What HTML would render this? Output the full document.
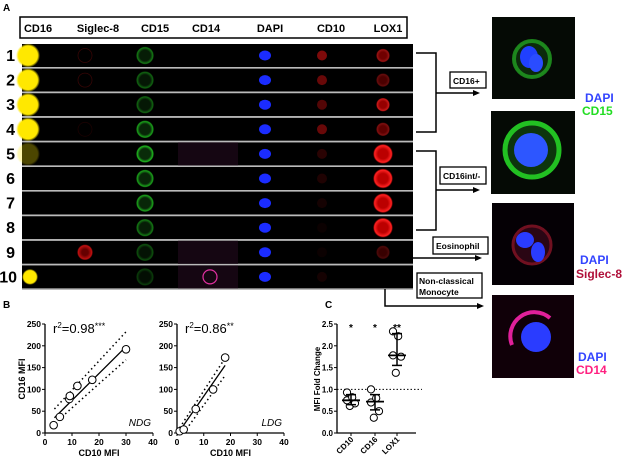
<!DOCTYPE html>
<html><head><meta charset="utf-8"><style>
html,body{margin:0;padding:0;background:#fff}
svg{display:block;font-family:"Liberation Sans",Arial,sans-serif}
</style></head><body>
<svg id="fig" width="623" height="458" viewBox="0 0 623 458" xmlns="http://www.w3.org/2000/svg">
<defs>
<radialGradient id="gY"><stop offset="0.8" stop-color="#ffe800"/><stop offset="1" stop-color="#ffe800" stop-opacity="0"/></radialGradient>
<radialGradient id="gG"><stop offset="0.6" stop-color="#0a300a"/><stop offset="0.88" stop-color="#22cc22"/><stop offset="1" stop-color="#22cc22" stop-opacity="0"/></radialGradient>
<radialGradient id="gR"><stop offset="0.5" stop-color="#b00"/><stop offset="0.85" stop-color="#ff2222"/><stop offset="1" stop-color="#f00" stop-opacity="0"/></radialGradient>
<radialGradient id="gS"><stop offset="0.4" stop-color="#600"/><stop offset="0.85" stop-color="#c01010"/><stop offset="1" stop-color="#c01010" stop-opacity="0"/></radialGradient>
<radialGradient id="gM"><stop offset="0.7" stop-color="#000" stop-opacity="0"/><stop offset="0.85" stop-color="#e0209a"/><stop offset="1" stop-color="#e0209a" stop-opacity="0"/></radialGradient>
</defs>
<text x="3" y="11" font-size="10" font-weight="bold">A</text>
<rect x="20" y="17" width="387" height="21" fill="#fff" stroke="#000" stroke-width="1.5"/>
<g id="hdr" font-size="11" font-weight="bold" text-anchor="middle">
<text x="38" y="32">CD16</text><text x="98" y="32">Siglec-8</text><text x="155" y="32">CD15</text><text x="206" y="32">CD14</text><text x="270" y="32">DAPI</text><text x="331" y="32">CD10</text><text x="388" y="32">LOX1</text>
</g>
<g id="rows"></g>
<g id="flow" stroke="#000" stroke-width="1.5" fill="none">
<path d="M416 53H436V132H416M436 93H476"/>
<path d="M416 151H436V230H416M436 190H476"/>
<path d="M413 258H478"/>
<path d="M385 289V306H480"/>
</g>
<g fill="#000">
<path d="M480 93l-7-3v6z"/><path d="M480 190l-7-3v6z"/><path d="M482 258l-7-3v6z"/><path d="M484 306l-7-3v6z"/>
</g>
<g font-size="8.5" font-weight="bold">
<rect x="450" y="72" width="36" height="16" fill="#fff" stroke="#000" stroke-width="1.3"/><text x="453" y="84">CD16+</text>
<rect x="440" y="167" width="46" height="17" fill="#fff" stroke="#000" stroke-width="1.3"/><text x="443" y="179">CD16int/-</text>
<rect x="433" y="237" width="55" height="17" fill="#fff" stroke="#000" stroke-width="1.3"/><text x="436" y="249">Eosinophil</text>
<rect x="417" y="273" width="65" height="25" fill="#fff" stroke="#000" stroke-width="1.3"/><text x="419" y="284">Non-classical</text><text x="419" y="295">Monocyte</text>
</g>
<g>
<rect x="492" y="17" width="83" height="82" fill="#050a05"/><circle cx="532" cy="59" r="19" fill="#0c2a0c"/><circle cx="532" cy="59" r="18" fill="none" stroke="#22a022" stroke-width="4" opacity="0.8"/><ellipse cx="529" cy="57" rx="9" ry="11" fill="#2040ff"/><ellipse cx="536" cy="63" rx="7" ry="9" fill="#2a4cff"/>
</g>
<g>
<rect x="491" y="111" width="84" height="83" fill="#050a05"/><circle cx="532" cy="150" r="28" fill="#0d350d"/><circle cx="532" cy="150" r="27" fill="none" stroke="#22c022" stroke-width="5"/><circle cx="531" cy="150" r="17" fill="#2d56ff"/>
</g>
<g>
<rect x="492" y="203" width="82" height="82" fill="#050005"/><circle cx="532" cy="245" r="19" fill="#2a0614"/><circle cx="532" cy="245" r="19" fill="none" stroke="#701020" stroke-width="3"/><ellipse cx="525" cy="240" rx="9" ry="8" fill="#2a3cff"/><ellipse cx="538" cy="252" rx="7" ry="10" fill="#2a3cff"/>
</g>
<g>
<rect x="492" y="295" width="82" height="83" fill="#100008"/><path d="M512 345A24 24 0 0 1 550 318" fill="none" stroke="#e0209a" stroke-width="4"/><circle cx="536" cy="337" r="15" fill="#2a3cff"/>
</g>
<g font-size="12" font-weight="bold">
<text x="585" y="102" fill="#3344ff">DAPI</text><text x="582" y="115" fill="#22dd22">CD15</text>
<text x="580" y="264" fill="#3344ff">DAPI</text><text x="576" y="278" fill="#b0103a">Siglec-8</text>
<text x="578" y="361" fill="#3344ff">DAPI</text><text x="576" y="374" fill="#ff2080">CD14</text>
</g>
<text x="3" y="308" font-size="10" font-weight="bold">B</text>
<text x="325" y="308" font-size="10" font-weight="bold">C</text>
<g id="charts"></g>
</svg>
<script>
const NS="http://www.w3.org/2000/svg";
function mk(p,t,a){const e=document.createElementNS(NS,t);for(const k in a)e.setAttribute(k,a[k]);p.appendChild(e);return e;}
const rowLabels=["1","2","3","4","5","6","7","8","9","10"];
const colX=[30,85,145,205,265,322,383];
const rowsG=document.getElementById('rows');
const rowIntensity=[
[1,.3,.6,0,1,.6,.6],[1,.3,.5,0,1,.5,.4],[1,0,.5,0,1,.4,.8],[1,.15,.8,0,1,.5,.5],
[.3,0,.9,.15,1,.2,1],[0,0,.8,0,1,.15,1],[0,0,.8,0,1,.1,1],[0,0,.6,0,1,.05,1],
[0,.8,.4,.1,1,.05,.3],[1,0,.3,.8,1,.1,0]];
rowLabels.forEach((lab,i)=>{
 const y=44+i*24.6;
 const g=mk(rowsG,'g',{});
 
 
 mk(g,'rect',{x:22,y:y,width:391,height:23,fill:'#000'});
 mk(g,'line',{x1:22,x2:413,y1:y+23.8,y2:y+23.8,stroke:'#bbb','stroke-width':1.5});
 const t=mk(g,'text',{x:i==9?17:15,y:y+17,'font-size':16,'font-weight':'bold','text-anchor':'end'});t.textContent=lab;
 const cy=y+11.5,v=rowIntensity[i];
 if(v[0]>0)mk(g,'circle',{cx:colX[0]+(i==9?0:-2),cy:cy,r:i==9?8:12,fill:'url(#gY)',opacity:v[0]});
 if(v[1]>0){if(i==8)mk(g,'circle',{cx:colX[1],cy:cy,r:8,fill:'url(#gS)'});else mk(g,'circle',{cx:colX[1],cy:cy,r:7,fill:'none',stroke:'#b01010','stroke-width':0.8,opacity:v[1]});}
 if(v[2]>0)mk(g,'circle',{cx:colX[2],cy:cy,r:9,fill:'url(#gG)',opacity:v[2]});
 if(v[3]>0){mk(g,'rect',{x:178,y:y,width:60,height:23,fill:'#150612',opacity:1});if(v[3]>.5)mk(g,'circle',{cx:colX[3]+5,cy:cy,r:7,fill:'none',stroke:'#e030a0','stroke-width':1.2});}
 mk(g,'ellipse',{cx:colX[4],cy:cy,rx:6,ry:5,fill:'#1b2cff'});
 if(v[5]>0)mk(g,'circle',{cx:colX[5],cy:cy,r:5,fill:'#d01010',opacity:v[5]});
 if(v[6]>0)mk(g,'circle',{cx:colX[6],cy:cy,r:i>=4&&i<=7?10:7,fill:'url(#gR)',opacity:v[6]});
});
// ---------- panel B ----------
const ndgX=[3.2,5.5,9,9.2,12,17.5,30];
const ndgY=[18,37,78,85,108,122,192];
const ndgFit=[[3.5,35],[30,198]];
const ndgUpper=[[3.5,55],[30,232]];
const ndgLower=[[5,30],[30,168]];
const ldgX=[1,2.5,7,13.5,18];
const ldgY=[4,8,55,100,173];
const ldgFit=[[1,5],[18,155]];
const ldgUpper=[[1,12],[18,172]];
const ldgLower=[[2.5,0],[18,132]];
const xTicks=[0,10,20,30,40];
const yTicks=[0,50,100,150,200,250];
// ---------- panel C ----------
const cCats=["CD10","CD16","LOX1"];
const cPoints=[[0.62,0.68,0.75,0.82,0.93],[0.35,0.5,0.7,0.8,1.0],[1.38,1.75,1.78,2.22,2.33]];
const cMedian=[0.75,0.72,1.78];
const cLow=[0.65,0.53,1.55];
const cHigh=[0.88,0.88,2.28];
const cStars=["*","*","**"];
const cTicks=[0,0.5,1.0,1.5,2.0,2.5];
const charts=document.getElementById('charts');
const Y0=433,Y1=324;
function scatter(name,x0,x1,px,py,fit,up,lo,r2,tag){
 const g=mk(charts,'g',{});
 
 
 const sx=v=>x0+v/40*(x1-x0), sy=v=>Y0-v/250*(Y0-Y1);
 mk(g,'path',{d:`M${x0} ${Y1}V${Y0}H${x1}`,stroke:'#000','stroke-width':1.3,fill:'none'});
 xTicks.forEach(t=>{mk(g,'line',{x1:sx(t),x2:sx(t),y1:Y0,y2:Y0+3,stroke:'#000'});const e=mk(g,'text',{x:sx(t),y:Y0+12,'font-size':8.5,'font-weight':'bold','text-anchor':'middle'});e.textContent=t;});
 yTicks.forEach(t=>{mk(g,'line',{x1:x0-3,x2:x0,y1:sy(t),y2:sy(t),stroke:'#000'});const e=mk(g,'text',{x:x0-4,y:sy(t)+3,'font-size':8.5,'font-weight':'bold','text-anchor':'end'});e.textContent=t;});
 mk(g,'line',{x1:sx(fit[0][0]),y1:sy(fit[0][1]),x2:sx(fit[1][0]),y2:sy(fit[1][1]),stroke:'#000','stroke-width':1.3});
 [up,lo].forEach(l=>mk(g,'line',{x1:sx(l[0][0]),y1:sy(l[0][1]),x2:sx(l[1][0]),y2:sy(l[1][1]),stroke:'#000','stroke-width':1.5,'stroke-dasharray':'1.5 3'}));
 px.forEach((v,i)=>{const c=mk(g,'circle',{cx:sx(v),cy:sy(py[i]),r:3.8,fill:'#fff',stroke:'#000'});
  
  });
 const t=mk(g,'text',{x:x0+8,y:Y1+9,'font-size':13});t.innerHTML=r2;
 const tg=mk(g,'text',{x:x1-2,y:Y0-7,'font-size':10,'font-style':'italic','text-anchor':'end'});tg.textContent=tag;
 const xl=mk(g,'text',{x:(x0+x1)/2,y:Y0+23,'font-size':9,'font-weight':'bold','text-anchor':'middle'});xl.textContent='CD10 MFI';
 return g;
}
scatter('scatter-ndg',45,153,ndgX,ndgY,ndgFit,ndgUpper,ndgLower,'r<tspan dy="-5" font-size="8">2</tspan><tspan dy="5">=0.98</tspan><tspan dy="-4" font-size="9">***</tspan>','NDG');
scatter('scatter-ldg',177,284,ldgX,ldgY,ldgFit,ldgUpper,ldgLower,'r<tspan dy="-5" font-size="8">2</tspan><tspan dy="5">=0.86</tspan><tspan dy="-4" font-size="9">**</tspan>','LDG');
const yl=mk(charts,'text',{transform:'translate(25 379) rotate(-90)','font-size':9,'font-weight':'bold','text-anchor':'middle'});yl.textContent='CD16 MFI';


(function(){
 const g=mk(charts,'g',{});
 
 
 const x0=337,x1=416,sy=v=>Y0-v/2.5*(Y0-Y1),cx=[351,375,397];
 mk(g,'path',{d:`M${x0} ${Y1}V${Y0}H${x1}`,stroke:'#000','stroke-width':1.3,fill:'none'});
 mk(g,'line',{x1:x0,x2:x1+6,y1:sy(1),y2:sy(1),stroke:'#000','stroke-dasharray':'1.5 2'});
 cTicks.forEach(t=>{mk(g,'line',{x1:x0-3,x2:x0,y1:sy(t),y2:sy(t),stroke:'#000'});const e=mk(g,'text',{x:x0-4,y:sy(t)+3,'font-size':8,'font-weight':'bold','text-anchor':'end'});e.textContent=t.toFixed(1);});
 cCats.forEach((c,i)=>{
  mk(g,'line',{x1:cx[i],x2:cx[i],y1:Y0,y2:Y0+3,stroke:'#000'});
  const e=mk(g,'text',{transform:`translate(${cx[i]+3} ${Y0+7}) rotate(-45)`,'font-size':8,'font-weight':'bold','text-anchor':'end'});e.textContent=c;
  cPoints[i].forEach((v,j)=>{const p=mk(g,'circle',{cx:cx[i]+((j%2)?4:-4)*(j%3?1:.3),cy:sy(v),r:3.6,fill:'#fff',stroke:'#000'});
   
   });
  mk(g,'line',{x1:cx[i],x2:cx[i],y1:sy(cLow[i]),y2:sy(cHigh[i]),stroke:'#000','stroke-width':1.5});
  [cLow[i],cHigh[i]].forEach(v=>mk(g,'line',{x1:cx[i]-5,x2:cx[i]+5,y1:sy(v),y2:sy(v),stroke:'#000','stroke-width':1.5}));
  mk(g,'line',{x1:cx[i]-9,x2:cx[i]+9,y1:sy(cMedian[i]),y2:sy(cMedian[i]),stroke:'#000','stroke-width':1.8});
  const s=mk(g,'text',{x:cx[i],y:Y1+7,'font-size':10,'font-weight':'bold','text-anchor':'middle'});s.textContent=cStars[i];
 });
 const t=mk(g,'text',{transform:'translate(320 379) rotate(-90)','font-size':8,'font-weight':'bold','text-anchor':'middle'});t.textContent='MFI Fold Change';
})();
</script>
</body></html>
